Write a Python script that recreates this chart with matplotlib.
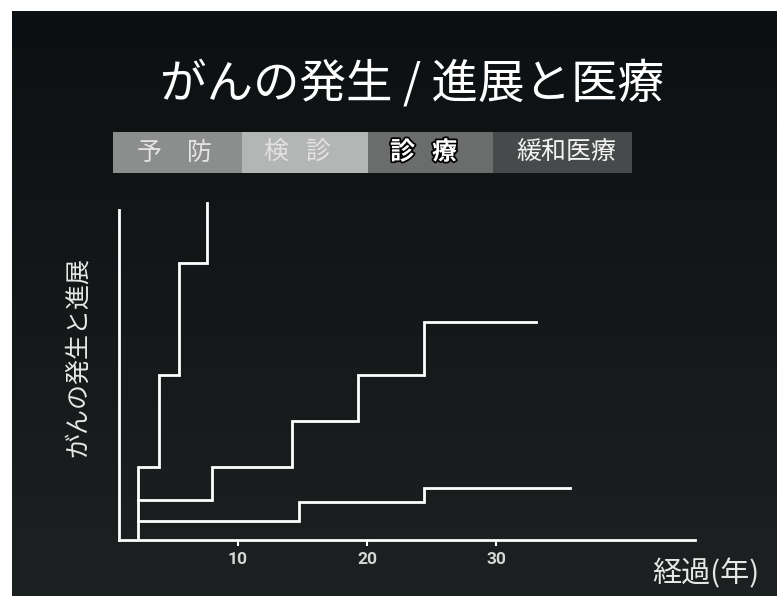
import matplotlib
matplotlib.use("Agg")
import matplotlib.pyplot as plt
import matplotlib.patheffects as pe
from matplotlib.colors import LinearSegmentedColormap
import numpy as np

plt.rcParams['font.family'] = ['Noto Sans CJK JP', 'DejaVu Sans']

# ---- data ----
title = "がんの発生 / 進展と医療"
ylabel = "がんの発生と進展"
xlabel = "経過(年)"
xticks = [10, 20, 30]
xtick_labels = ["10", "20", "30"]

# step series (years, level) - drawn with where='post'
s1_x = [2.25, 2.25, 3.9, 5.45, 7.6]
s1_y = [0, 22, 50, 84, 102]
s2_x = [2.25, 7.96, 14.2, 19.3, 24.4, 33.1]
s2_y = [12, 22, 36, 50, 66, 66]
s3_x = [2.25, 14.7, 24.4, 35.7]
s3_y = [5.8, 11.6, 15.8, 15.8]

stages = ["予　防", "検   診", "診   療", "緩和医療"]
stage_colors = ["#8b8e8d", "#b3b6b5", "#6a6d6c", "#464a4a"]
stage_text_colors = ["#e4e4e4", "#e2e2e2", "#ffffff", "#f4f4f4"]

W, H = 777, 596
fig = plt.figure(figsize=(W / 100, H / 100), dpi=100, facecolor="white")

# dark slide background
bg = fig.add_axes([12 / W, 0, (W - 12) / W, (H - 11) / H])
cmap = LinearSegmentedColormap.from_list("bg", ["#0c1012", "#141819", "#1d2121"])
bg.imshow(np.linspace(0, 1, 256).reshape(-1, 1), aspect="auto", cmap=cmap,
          extent=[0, 1, 0, 1], origin="upper")
bg.set_axis_off()

# main axes
x0, x1 = 119, 695
y_bot, y_top = 540, 195
ax = fig.add_axes([x0 / W, (H - y_bot) / H, (x1 - x0) / W, (y_bot - y_top) / H])
ax.set_facecolor("none")
ax.set_xlim(0.78, 45.4)
ax.set_ylim(0, 104.5)

lw = 2.0
for xs, ys in [(s1_x, s1_y), (s2_x, s2_y), (s3_x, s3_y)]:
    ax.step(xs, ys, where="post", color="white", lw=lw, solid_joinstyle="miter")

for side in ["top", "right"]:
    ax.spines[side].set_visible(False)
ax.spines["left"].set_color("white")
ax.spines["bottom"].set_color("white")
ax.spines["left"].set_linewidth(lw)
ax.spines["bottom"].set_linewidth(lw)
ax.spines["left"].set_bounds(0, 100)
ax.set_yticks([])
ax.set_xticks(xticks)
ax.set_xticklabels(xtick_labels, fontfamily=["Roboto", "DejaVu Sans"],
                   fontweight="bold", fontsize=12.5, color="#d6d6d6")
ax.tick_params(axis="x", direction="out", length=4, width=1.5, color="white", pad=5)

# titles / labels
fig.text(412 / W, 1 - 84 / H, title, ha="center", va="center", fontsize=33.5, color="white")
fig.text(78 / W, 1 - 357 / H, ylabel, ha="center", va="center", rotation=90,
         fontsize=18, color="#e8e8e8")
fig.text(706 / W, 1 - 574 / H, xlabel, ha="center", va="center", fontsize=21,
         color="#e8e8e8")

# stage bar
bx0, bx1, by0, by1 = 113, 632, 132, 173
bounds = [113, 242, 368, 493, 632]
bax = fig.add_axes([bx0 / W, (H - by1) / H, (bx1 - bx0) / W, (by1 - by0) / H])
bax.set_xlim(bx0, bx1)
bax.set_ylim(0, 1)
bax.set_axis_off()
offsets = [-3, -8, -7, 4]
for i, (name, c, tc) in enumerate(zip(stages, stage_colors, stage_text_colors)):
    bax.barh(0.5, bounds[i + 1] - bounds[i], left=bounds[i], height=1.0, color=c,
             edgecolor="none")
    kw = dict(ha="center", va="center", fontsize=18, color=tc)
    if i == 2:
        kw.update(fontweight="bold",
                  path_effects=[pe.withStroke(linewidth=2.5, foreground="black")])
    bax.text((bounds[i] + bounds[i + 1]) / 2 + offsets[i], 0.5, name, **kw)

fig.savefig("out.png", dpi=100, facecolor=fig.get_facecolor())
